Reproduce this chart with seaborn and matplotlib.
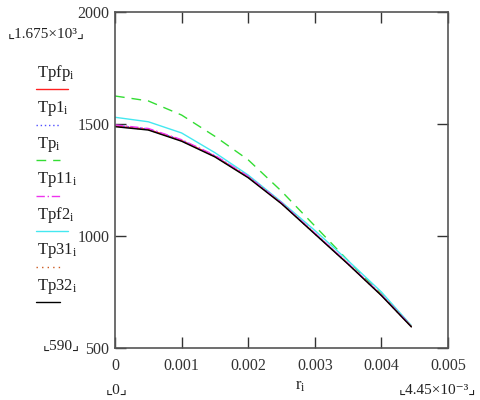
import matplotlib
matplotlib.use("Agg")
import matplotlib.pyplot as plt
import seaborn as sns
import pandas as pd
from matplotlib.lines import Line2D

sns.set_style("white")
plt.rcParams['font.family'] = ['Liberation Serif', 'DejaVu Sans']
plt.rcParams['mathtext.fontset'] = 'custom'
plt.rcParams['mathtext.rm'] = 'Liberation Serif'
plt.rcParams['mathtext.it'] = 'Liberation Serif'

# ---- data ----
r = [0.0, 0.0005, 0.001, 0.0015, 0.002, 0.0025, 0.003, 0.0035, 0.004, 0.00445]
Tpfp = [1491, 1476, 1426, 1356, 1263, 1146, 1011, 876, 736, 596]
Tp1 = [1494, 1478, 1428, 1358, 1265, 1147, 1012, 877, 737, 596]
Tp = [1625, 1603, 1540, 1445, 1340, 1200, 1045, 890, 740, 600]
Tp11 = [1496, 1480, 1430, 1360, 1266, 1148, 1013, 878, 737, 597]
Tpf2 = [1530, 1510, 1460, 1372, 1272, 1152, 1025, 890, 750, 600]
Tp31 = [1490, 1475, 1425, 1355, 1262, 1145, 1010, 875, 735, 595]
Tp32 = [1488, 1473, 1423, 1353, 1260, 1144, 1009, 874, 734, 594]

labels = ["Tpfp", "Tp1", "Tp", "Tp11", "Tpf2", "Tp31", "Tp32"]
series = [Tpfp, Tp1, Tp, Tp11, Tpf2, Tp31, Tp32]
colors = ["#ff2020", "#5050ff", "#33dd33", "#ee33ee", "#44e8f0", "#cc5a20", "#000000"]
styles = [(None, None), (1, 2), (7, 5), (6, 2, 1, 2), (None, None), (1, 3), (None, None)]

xticks = [0, 0.001, 0.002, 0.003, 0.004, 0.005]
yticks = [500, 1000, 1500, 2000]

fig = plt.figure(figsize=(4.81, 4.00), dpi=100)
ax = fig.add_axes([115/481, 1-348/400, (448-115)/481, (348-12)/400])

draw_order = [2, 4, 0, 1, 3, 5, 6]
for k in draw_order:
    df = pd.DataFrame({"r": r, "T": series[k]})
    sns.lineplot(data=df, x="r", y="T", ax=ax, color=colors[k], lw=1.0,
                 estimator=None, sort=False, legend=False)
    line = ax.lines[-1]
    if styles[k][0] is not None:
        line.set_dashes(styles[k])

ax.set_xlim(0, 0.005)
ax.set_ylim(500, 2000)
ax.set_xticks(xticks)
ax.set_xticklabels(["0", "0.001", "0.002", "0.003", "0.004", "0.005"])
ax.set_yticks(yticks)
ax.set_yticklabels(["500", "1000", "1500", "2000"])
ax.set_xlabel("")
ax.set_ylabel("")
ax.tick_params(direction="in", length=8, width=1, color="#333333",
               top=True, right=True, bottom=True, left=True,
               labelsize=11.5, labelcolor="#333333")
ax.tick_params(axis="x", pad=7)
ax.tick_params(axis="y", pad=4)
for s in ax.spines.values():
    s.set_color("#555555")
    s.set_linewidth(1.2)

# Legend drawn manually on the left
for k, lab in enumerate(labels):
    ty = 73 + k * 35.5
    fig.text(37/481, 1 - ty/400, lab + r"$_{\mathrm{i}}$", fontsize=12,
             ha="left", va="center", color="#222222")
    ly = 1 - (ty + 16)/400
    ln = Line2D([36/481, 68/481 if k in (0, 4) else 60/481], [ly, ly],
                transform=fig.transFigure, color=colors[k], lw=1.0)
    if styles[k][0] is not None:
        ln.set_dashes(styles[k])
    fig.add_artist(ln)

tf = dict(fontsize=11, color="#222222", family=['Liberation Serif', 'DejaVu Sans'])
fig.text(8/481, 1 - 34/400, "\u231e1.675\u00d710\u00b3\u231f", ha="left", va="center", **tf)
fig.text(80/481, 1 - 346/400, "\u231e590\u231f", ha="right", va="center", **tf)
fig.text(117/481, 1 - 390/400, "\u231e0\u231f", ha="center", va="center", **tf)
fig.text(300/481, 1 - 386/400, r"r$_{\mathrm{i}}$", ha="center", va="center",
         fontsize=12, color="#222222")
fig.text(437/481, 1 - 390/400, "\u231e4.45\u00d710\u207b\u00b3\u231f", ha="center", va="center", **tf)

fig.savefig("out.png", dpi=100)
